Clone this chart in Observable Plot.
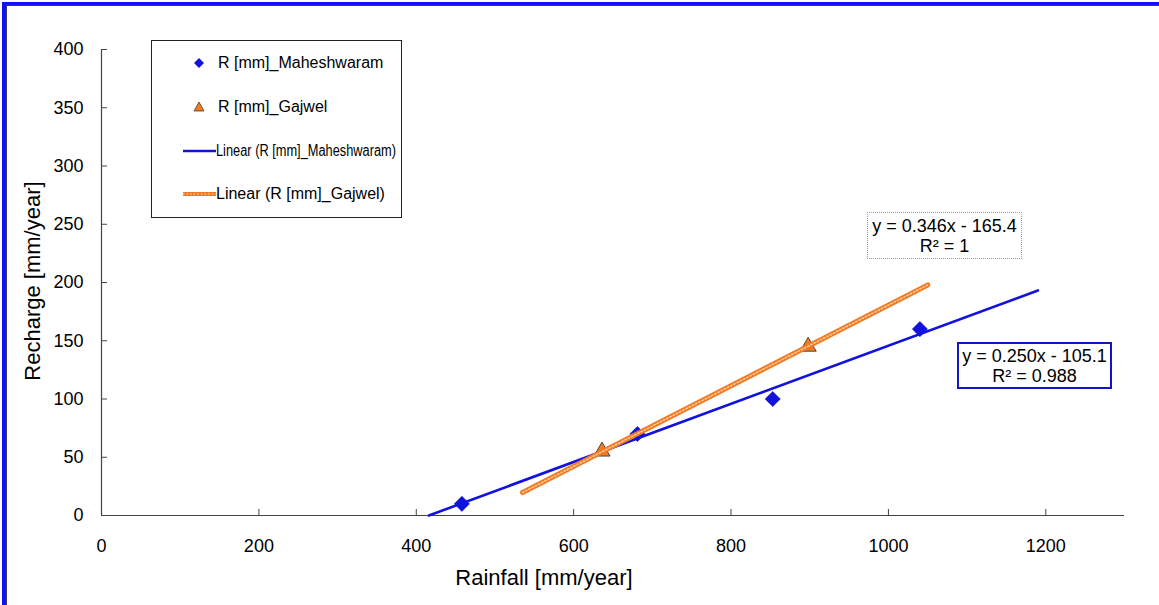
<!DOCTYPE html>
<html>
<head>
<meta charset="utf-8">
<script src="https://cdn.jsdelivr.net/npm/d3@7"></script>
<script src="https://cdn.jsdelivr.net/npm/@observablehq/plot@0.6"></script>
<style>
  html, body { margin: 0; padding: 0; background: #fff; }
  #wrap { position: relative; width: 1159px; height: 605px; overflow: hidden; font-family: "Liberation Sans", Arial, sans-serif; color: #000; }
  #chart { position: absolute; left: 0; top: 0; }
  .abs { position: absolute; }
  .frame-outer { left: 2px; top: 2px; right: -10px; bottom: -10px; border-top: 3px solid #1010ff; border-left: 4px solid #1010ff; }
  .frame-inner { left: 0; top: 0; right: 0; bottom: 0; border-top: 1px solid #3a3a5a; border-left: 1px solid #3a3a5a; }
  .title { white-space: nowrap; font-size: 22px; transform: translate(-50%, -50%); }
  .legend { left: 151px; top: 40px; width: 251px; height: 178px; border: 1px solid #222; background: #fff; box-sizing: border-box; }
  .legtext { position: absolute; left: 66px; font-size: 16px; white-space: nowrap; transform: translateY(-50%); transform-origin: 0 50%; }
  .eqbox { position: absolute; box-sizing: border-box; background: #fff; font-size: 18px; text-align: center; line-height: 20px; padding-top: 3px; white-space: nowrap; }
</style>
</head>
<body>
<div id="wrap">
  <div id="chart"></div>
</div>
<script>
// ---- data ----
const rainfallMaheshwaram = [458, 681, 853, 1040];
const rechargeMaheshwaram = [10, 70, 100, 160];
const rainfallGajwel = [636, 898];
const rechargeGajwel = [55, 145];
// trend lines (endpoints as drawn in the reference)
const trendMaheshwaramX = [416, 1190];
const trendMaheshwaramY = [0, 193.2];
const trendGajwelX = [535, 1050];
const trendGajwelY = [19.7, 197.9];
const xTicks = [0, 200, 400, 600, 800, 1000, 1200];
const yTicks = [0, 50, 100, 150, 200, 250, 300, 350, 400];
const seriesNames = ["R [mm]_Maheshwaram", "R [mm]_Gajwel", "Linear (R [mm]_Maheshwaram)", "Linear (R [mm]_Gajwel)"];
const equationGajwel = ["y = 0.346x - 165.4", "R\u00b2 = 1"];
const equationMaheshwaram = ["y = 0.250x - 105.1", "R\u00b2 = 0.988"];
const xTitle = "Rainfall [mm/year]";
const yTitle = "Recharge [mm/year]";

const blue = "#1212e0";
const orange = "#f27a22";
const axisGrey = "#444";

const mah = rainfallMaheshwaram.map((x, i) => ({x, y: rechargeMaheshwaram[i]}));
const gaj = rainfallGajwel.map((x, i) => ({x, y: rechargeGajwel[i]}));
const tMah = trendMaheshwaramX.map((x, i) => ({x, y: trendMaheshwaramY[i]}));
const tGaj = trendGajwelX.map((x, i) => ({x, y: trendGajwelY[i]}));

const chart = Plot.plot({
  width: 1159,
  height: 605,
  marginLeft: 101,
  marginRight: 35,
  marginTop: 49,
  marginBottom: 90,
  style: {fontFamily: "'Liberation Sans', Arial, sans-serif", fontSize: "18px", color: "#000", background: "transparent", overflow: "visible"},
  x: {domain: [0, 1300], label: null},
  y: {domain: [0, 400], label: null},
  marks: [
    Plot.axisX(xTicks, {tickSize: 0, tickPadding: 24, fontSize: 18, fill: "#000", label: null, tickFormat: d => String(d)}),
    Plot.axisX(xTicks, {tickSize: 6, dy: -6, tickFormat: () => "", stroke: axisGrey, label: null}),
    Plot.axisY(yTicks, {tickSize: 0, tickPadding: 18, fontSize: 18, fill: "#000", label: null, tickFormat: d => String(d)}),
    Plot.axisY(yTicks, {tickSize: 6, dx: 6, tickFormat: () => "", stroke: axisGrey, label: null}),
    Plot.ruleX([0], {stroke: axisGrey, strokeWidth: 1.2}),
    Plot.ruleY([0], {stroke: axisGrey, strokeWidth: 1.2}),
    Plot.dot(mah, {x: "x", y: "y", symbol: "diamond2", r: 6.8, fill: blue, stroke: "#0a0aa0", strokeWidth: 0.6}),
    Plot.dot(gaj, {x: "x", y: "y", symbol: "triangle", r: 6, fill: orange, stroke: "#3a2a1a", strokeWidth: 0.8}),
    Plot.line(tMah, {x: "x", y: "y", stroke: blue, strokeWidth: 2.6}),
    Plot.line(tGaj, {x: "x", y: "y", stroke: orange, strokeWidth: 5}),
    Plot.line(tGaj, {x: "x", y: "y", stroke: "#fcc99a", strokeWidth: 1.6, strokeDasharray: "1.4 2.2"})
  ]
});
document.getElementById("chart").appendChild(chart);

const wrap = document.getElementById("wrap");
function add(html) { wrap.insertAdjacentHTML("beforeend", html); }

// axis titles
add(`<div class="abs title" style="left:544px; top:578px;">${xTitle}</div>`);
add(`<div class="abs title" style="left:33px; top:281px; transform: translate(-50%,-50%) rotate(-90deg);">${yTitle}</div>`);

// legend
add(`<div class="abs legend">
  <svg width="251" height="178" style="position:absolute;left:-1px;top:-1px;overflow:visible">
    <path d="M48,18 L53,23 L48,28 L43,23 Z" fill="${blue}"/>
    <path d="M48,62 L53,71 L43,71 Z" fill="${orange}" stroke="#3a2a1a" stroke-width="0.7"/>
    <line x1="32" x2="65" y1="111" y2="111" stroke="${blue}" stroke-width="2.5"/>
    <line x1="32" x2="65" y1="154" y2="154" stroke="${orange}" stroke-width="4"/>
    <line x1="32" x2="65" y1="154" y2="154" stroke="#fcc99a" stroke-width="1.3" stroke-dasharray="1.4 2.2"/>
  </svg>
  <div class="legtext" style="top:22px;left:66px">${seriesNames[0]}</div>
  <div class="legtext" style="top:66px;left:66px">${seriesNames[1]}</div>
  <div class="legtext" style="top:110px;left:64px; transform: translateY(-50%) scaleX(0.8);">${seriesNames[2]}</div>
  <div class="legtext" style="top:153px;left:64px">${seriesNames[3]}</div>
</div>`);

// equation boxes
add(`<div class="eqbox" style="left:867px; top:212px; width:155px; height:47px; border:1px dotted #f08c00;">${equationGajwel[0]}<br>${equationGajwel[1]}</div>`);
add(`<div class="eqbox" style="left:957px; top:342px; width:155px; height:47px; border:2px solid #1515c8; padding-top:2px;">${equationMaheshwaram[0]}<br>${equationMaheshwaram[1]}</div>`);

// outer frame (blue border at top and left)
add(`<div class="abs frame-outer"><div class="abs frame-inner"></div></div>`);
</script>
</body>
</html>
